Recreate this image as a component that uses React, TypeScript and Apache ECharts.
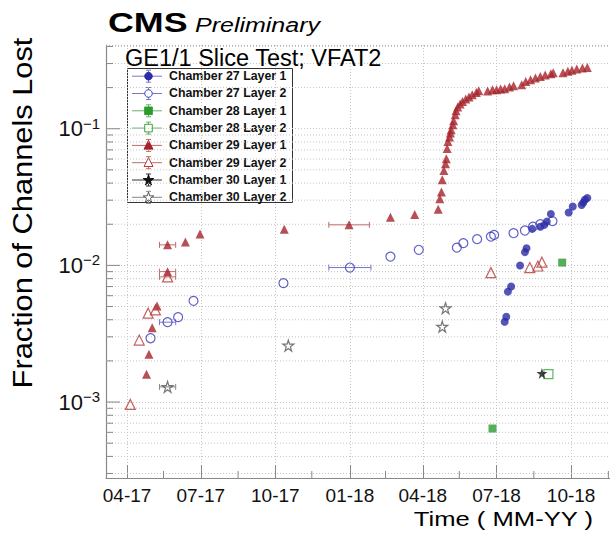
import React, { useEffect, useRef } from 'react';
import * as echarts from 'echarts';

const FONT = '"Liberation Sans", Arial, Helvetica, sans-serif';

// ---------- data ----------
const seriesNames = [
  'Chamber 27 Layer 1',
  'Chamber 27 Layer 2',
  'Chamber 28 Layer 1',
  'Chamber 28 Layer 2',
  'Chamber 29 Layer 1',
  'Chamber 29 Layer 2',
  'Chamber 30 Layer 1',
  'Chamber 30 Layer 2',
];

const ch27Layer1: [string, number][] = [
  ['2018-07-11', 0.00387], ['2018-07-13', 0.00421], ['2018-07-15', 0.00643], ['2018-07-19', 0.0070],
  ['2018-07-30', 0.00997], ['2018-08-05', 0.0125], ['2018-08-07', 0.01336], ['2018-08-14', 0.0185],
  ['2018-08-24', 0.0192], ['2018-08-29', 0.0198], ['2018-09-01', 0.0209], ['2018-09-06', 0.0238],
  ['2018-09-28', 0.0244], ['2018-10-03', 0.0270], ['2018-10-14', 0.0277], ['2018-10-16', 0.0288],
  ['2018-10-18', 0.0302], ['2018-10-21', 0.0311],
];

const ch27Layer2: [string, number][] = [
  ['2017-04-30', 0.00293], ['2017-05-21', 0.00384], ['2017-06-03', 0.00418], ['2017-06-22', 0.0055],
  ['2017-10-11', 0.00741], ['2018-01-01', 0.00964], ['2018-02-20', 0.0116], ['2018-03-27', 0.0130],
  ['2018-05-13', 0.0135], ['2018-05-21', 0.01455], ['2018-06-07', 0.01556], ['2018-06-24', 0.01625],
  ['2018-06-28', 0.0167], ['2018-07-22', 0.0172], ['2018-08-05', 0.0180], ['2018-08-15', 0.0192],
  ['2018-08-24', 0.0200], ['2018-09-08', 0.0211],
];

const ch28Layer1: [string, number][] = [['2018-06-26', 0.00064], ['2018-09-20', 0.01048]];
const ch28Layer2: [string, number][] = [['2018-09-03', 0.0016]];

const ch29Layer1: [string, number][] = [
  ['2017-04-25', 0.0016], ['2017-04-28', 0.00224], ['2017-05-02', 0.0035], ['2017-05-08', 0.00505],
  ['2017-05-21', 0.0090], ['2017-05-21', 0.01413], ['2017-06-12', 0.0148], ['2017-06-30', 0.0170],
  ['2017-10-12', 0.0184], ['2017-12-31', 0.0198], ['2018-02-20', 0.0225], ['2018-03-22', 0.0236],
  ['2018-04-20', 0.0258], ['2018-04-22', 0.0307], ['2018-04-24', 0.0344], ['2018-04-25', 0.0423],
  ['2018-04-27', 0.0495], ['2018-04-29', 0.0555], ['2018-04-30', 0.0603], ['2018-05-01', 0.0717],
  ['2018-05-02', 0.0807], ['2018-05-04', 0.0869], ['2018-05-05', 0.0930], ['2018-05-06', 0.0983],
  ['2018-05-08', 0.107], ['2018-05-09', 0.1145], ['2018-05-11', 0.1267], ['2018-05-12', 0.1355],
  ['2018-05-14', 0.144], ['2018-05-17', 0.152], ['2018-05-20', 0.1585], ['2018-05-24', 0.165],
  ['2018-05-28', 0.1708], ['2018-06-01', 0.1774], ['2018-06-06', 0.1845], ['2018-06-09', 0.190],
  ['2018-06-20', 0.1888], ['2018-06-26', 0.193], ['2018-07-01', 0.193], ['2018-07-06', 0.1955],
  ['2018-07-11', 0.1965], ['2018-07-17', 0.202], ['2018-07-22', 0.2065], ['2018-08-01', 0.210],
  ['2018-08-06', 0.222], ['2018-08-12', 0.2285], ['2018-08-18', 0.235], ['2018-08-24', 0.2415],
  ['2018-08-30', 0.247], ['2018-09-06', 0.253], ['2018-09-09', 0.2565], ['2018-09-21', 0.2565],
  ['2018-09-27', 0.263], ['2018-10-02', 0.2675], ['2018-10-08', 0.2737], ['2018-10-15', 0.2785],
  ['2018-10-21', 0.2812],
];

const ch29Layer2: [string, number][] = [
  ['2017-04-05', 0.00096], ['2017-04-16', 0.00284], ['2017-04-27', 0.00447], ['2017-05-06', 0.00472],
  ['2017-05-21', 0.00824], ['2018-06-24', 0.00885], ['2018-08-11', 0.00964], ['2018-08-21', 0.0099],
  ['2018-08-26', 0.01055],
];

const ch30Layer1: [string, number][] = [['2018-08-26', 0.00162]];
const ch30Layer2: [string, number][] = [
  ['2017-05-21', 0.00129], ['2017-10-17', 0.00259], ['2018-04-25', 0.00356], ['2018-04-29', 0.00486],
];

// horizontal error bars: [series index, date, half width (days), value]
const xErrorBars: [number, string, number, number][] = [
  [4, '2017-05-21', 10, 0.01413], [4, '2017-05-21', 10, 0.0090], [5, '2017-05-21', 10, 0.00824],
  [1, '2017-05-21', 10, 0.00384], [7, '2017-05-21', 10, 0.00129],
  [4, '2017-12-31', 25, 0.0198], [1, '2018-01-01', 26, 0.00964],
];

const xTickDates = ['2017-04-01', '2017-07-01', '2017-10-01', '2018-01-01', '2018-04-01', '2018-07-01', '2018-10-01'];
const xMinorTickDates = ['2017-05-16', '2017-08-16', '2017-11-15', '2018-02-14', '2018-05-16', '2018-08-16', '2018-11-16'];
const xRange = ['2017-03-06', '2018-11-18'];
const yMajorTicks = [0.001, 0.01, 0.1];
const yRange = [0.000278, 0.41];

// ---------- styles ----------
const palette = ['#2b2ba5', '#3a3ab8', '#2e9a2e', '#3aa53a', '#a5232b', '#b53a3a', '#111111', '#555555'];
const legendLineColors = ['#7777cc', '#7777cc', '#66b366', '#66b366', '#c46a6a', '#c46a6a', '#333333', '#888888'];
const STAR = [[50, 2], [61, 37], [98, 37], [68, 59], [79, 95], [50, 73], [21, 95], [32, 59], [2, 37], [39, 37]];
const STAR_PATH = 'path://M' + STAR.map((p) => p.join(',')).join(' L') + ' Z';
const symbols = ['circle', 'circle', 'rect', 'rect', 'triangle', 'triangle', STAR_PATH, STAR_PATH];
const sizes = [8, 9, 8, 9, 9, 10, 11, 11];
const filled = [true, false, true, false, true, false, true, false];

const ms = (d: string) => Date.parse(d + 'T00:00:00Z');
const pad2 = (n: number) => (n < 10 ? '0' : '') + n;

const yMinorTicks: number[] = [];
for (let e = -4; e <= -1; e++) {
  for (let m = 2; m <= 9; m++) {
    const v = m * Math.pow(10, e);
    if (v > yRange[0] && v < yRange[1]) yMinorTicks.push(v);
  }
}

function buildOption() {
  const xMin = ms(xRange[0]);
  const xMax = ms(xRange[1]);
  const xTicks = xTickDates.map(ms);
  const seriesData = [ch27Layer1, ch27Layer2, ch28Layer1, ch28Layer2, ch29Layer1, ch29Layer2, ch30Layer1, ch30Layer2];

  const decorData: number[][] = [];
  yMajorTicks.forEach((v) => decorData.push([xMin, v, 0]));
  yMinorTicks.forEach((v) => decorData.push([xMin, v, 1]));
  xMinorTickDates.forEach((d) => decorData.push([ms(d), yRange[0], 2]));
  decorData.push([xMin, yRange[1], 3]);

  const errData = xErrorBars.map(([si, d, h, v]) => [ms(d) - h * 86400000, ms(d) + h * 86400000, v, si]);

  const legendChildren: any[] = [
    { type: 'rect', shape: { x: 127.5, y: 68.5, width: 165, height: 134 }, style: { fill: '#fff', stroke: '#333', lineWidth: 1 } },
  ];
  seriesNames.forEach((name, i) => {
    const y = 76.2 + i * 17.3;
    const cx = 148.5;
    const c = palette[i];
    legendChildren.push({ type: 'line', shape: { x1: 132, y1: y, x2: 162, y2: y }, style: { stroke: legendLineColors[i], lineWidth: 1 } });
    legendChildren.push({ type: 'line', shape: { x1: cx, y1: y - 6, x2: cx, y2: y + 6 }, style: { stroke: legendLineColors[i], lineWidth: 1 } });
    legendChildren.push({ type: 'line', shape: { x1: cx - 2.5, y1: y - 6, x2: cx + 2.5, y2: y - 6 }, style: { stroke: legendLineColors[i], lineWidth: 1 } });
    legendChildren.push({ type: 'line', shape: { x1: cx - 2.5, y1: y + 6, x2: cx + 2.5, y2: y + 6 }, style: { stroke: legendLineColors[i], lineWidth: 1 } });
    const st = filled[i] ? { fill: c, stroke: c, lineWidth: 1 } : { fill: '#fff', stroke: c, lineWidth: 1 };
    if (i < 2) legendChildren.push({ type: 'circle', shape: { cx, cy: y, r: 3.8 }, style: st });
    else if (i < 4) legendChildren.push({ type: 'rect', shape: { x: cx - 3.8, y: y - 3.8, width: 7.6, height: 7.6 }, style: st });
    else if (i < 6) legendChildren.push({ type: 'polygon', shape: { points: [[cx, y - 5], [cx + 4.5, y + 3.8], [cx - 4.5, y + 3.8]] }, style: st });
    else legendChildren.push({ type: 'polygon', shape: { points: STAR.map(([px, py]) => [cx + (px - 50) * 0.11, y + (py - 50) * 0.11]) }, style: st });
    legendChildren.push({
      type: 'text', x: 169, y, scaleX: 1.03,
      style: { text: name, fontSize: 12, fontWeight: 'bold', fontFamily: FONT, fill: '#111', align: 'left', verticalAlign: 'middle' },
    });
  });

  return {
    animation: false,
    backgroundColor: '#ffffff',
    grid: { left: 106, top: 45, right: 0, bottom: 58, containLabel: false, outerBoundsMode: 'none' },
    xAxis: {
      type: 'value',
      min: xMin,
      max: xMax,
      axisLine: { show: true, onZero: false, lineStyle: { color: '#888', width: 1.2 } },
      axisTick: { show: true, inside: true, length: 13, customValues: xTicks, lineStyle: { color: '#888', width: 1 } },
      axisLabel: {
        customValues: xTicks,
        fontSize: 19,
        fontFamily: FONT,
        color: '#111',
        margin: 8,
        formatter: (v: number) => {
          const d = new Date(v);
          return pad2(d.getUTCMonth() + 1) + '-' + pad2(d.getUTCFullYear() % 100);
        },
      },
      splitLine: { show: true, lineStyle: { color: '#c4c4c4', type: [1, 2], width: 1 } },
    },
    yAxis: {
      type: 'log',
      logBase: 10,
      min: yRange[0],
      max: yRange[1],
      axisLine: { show: true, onZero: false, lineStyle: { color: '#888', width: 1.2 } },
      axisTick: { show: false },
      axisLabel: {
        showMinLabel: false,
        showMaxLabel: false,
        margin: 6,
        formatter: (v: number) => {
          const e = Math.round(Math.log10(v));
          return '{b|10}{s|' + (e < 0 ? '\u2212' : '') + Math.abs(e) + '}';
        },
        rich: {
          b: { fontSize: 22, fontFamily: FONT, color: '#111', lineHeight: 26 },
          s: { fontSize: 15, fontFamily: FONT, color: '#111', lineHeight: 16, verticalAlign: 'top' },
        },
      },
      splitLine: { show: true, lineStyle: { color: '#c4c4c4', type: [1, 2], width: 1 } },
    },
    series: [
      {
        type: 'custom',
        name: 'decor',
        z: 1,
        silent: true,
        clip: false,
        data: decorData,
        renderItem: (params: any, api: any) => {
          const kind = api.value(2);
          const cs = params.coordSys;
          const p = api.coord([api.value(0), api.value(1)]);
          if (kind === 2) {
            return { type: 'line', shape: { x1: p[0], y1: cs.y + cs.height, x2: p[0], y2: cs.y + cs.height - 7 }, style: { stroke: '#888', lineWidth: 1 } };
          }
          if (kind === 3) {
            return { type: 'line', shape: { x1: cs.x, y1: p[1] + 0.5, x2: cs.x + cs.width, y2: p[1] + 0.5 }, style: { stroke: '#b0b0b0', lineWidth: 1, lineDash: [1, 2] } };
          }
          const children: any[] = [];
          if (kind === 1) {
            children.push({ type: 'line', shape: { x1: cs.x, y1: p[1], x2: cs.x + cs.width, y2: p[1] }, style: { stroke: '#c4c4c4', lineWidth: 1, lineDash: [1, 2] } });
          }
          children.push({ type: 'line', shape: { x1: cs.x, y1: p[1], x2: cs.x + (kind === 0 ? 14 : 7), y2: p[1] }, style: { stroke: '#888', lineWidth: 1 } });
          return { type: 'group', children };
        },
      },
      {
        type: 'custom',
        name: 'xerr',
        z: 3,
        silent: true,
        clip: false,
        data: errData,
        encode: { x: [0, 1], y: 2 },
        renderItem: (params: any, api: any) => {
          const lo = api.coord([api.value(0), api.value(2)]);
          const hi = api.coord([api.value(1), api.value(2)]);
          const c = legendLineColors[api.value(3)];
          const s = { stroke: c, lineWidth: 1 };
          return {
            type: 'group',
            children: [
              { type: 'line', shape: { x1: lo[0], y1: lo[1], x2: hi[0], y2: hi[1] }, style: s },
              { type: 'line', shape: { x1: lo[0], y1: lo[1] - 3, x2: lo[0], y2: lo[1] + 3 }, style: s },
              { type: 'line', shape: { x1: hi[0], y1: hi[1] - 3, x2: hi[0], y2: hi[1] + 3 }, style: s },
            ],
          };
        },
      },
      ...seriesData.map((d, i) => ({
        type: 'scatter',
        name: seriesNames[i],
        z: 5,
        data: d.map(([t, v]) => [ms(t), v]),
        symbol: symbols[i],
        symbolSize: sizes[i],
        itemStyle: filled[i]
          ? { color: palette[i] }
          : { color: 'transparent', borderColor: palette[i], borderWidth: 1.2 },
        emphasis: { disabled: true },
      })),
    ],
    graphic: [
      {
        type: 'text', x: 108, y: 22.5, scaleX: 1.28, z: 100,
        style: { text: 'CMS', fontSize: 28, fontWeight: 'bold', fontFamily: FONT, fill: '#000', align: 'left', verticalAlign: 'middle' },
      },
      {
        type: 'text', x: 195, y: 25.5, scaleX: 1.25, z: 100,
        style: { text: 'Preliminary', fontSize: 20, fontStyle: 'italic', fontFamily: FONT, fill: '#000', align: 'left', verticalAlign: 'middle' },
      },
      {
        type: 'text', x: 125, y: 57.5, z: 100,
        style: { text: 'GE1/1 Slice Test; VFAT2', fontSize: 23.5, fontFamily: FONT, fill: '#000', align: 'left', verticalAlign: 'middle' },
      },
      {
        type: 'text', x: 22, y: 213, rotation: Math.PI / 2, scaleX: 1.1, z: 100,
        style: { text: 'Fraction of Channels Lost', fontSize: 28, fontFamily: FONT, fill: '#000', align: 'center', verticalAlign: 'middle' },
      },
      {
        type: 'text', x: 593, y: 519, scaleX: 1.22, z: 100,
        style: { text: 'Time ( MM-YY )', fontSize: 21, fontFamily: FONT, fill: '#000', align: 'right', verticalAlign: 'middle' },
      },
      { type: 'group', z: 100, children: legendChildren },
    ],
  };
}

export default function App() {
  const ref = useRef<HTMLDivElement>(null);
  useEffect(() => {
    if (!ref.current) return;
    const chart = echarts.init(ref.current, undefined, { renderer: 'svg' });
    chart.setOption(buildOption() as any);
    return () => chart.dispose();
  }, []);
  return <div ref={ref} style={{ position: 'fixed', left: 0, top: 0, width: 610, height: 536, background: '#fff' }} />;
}
